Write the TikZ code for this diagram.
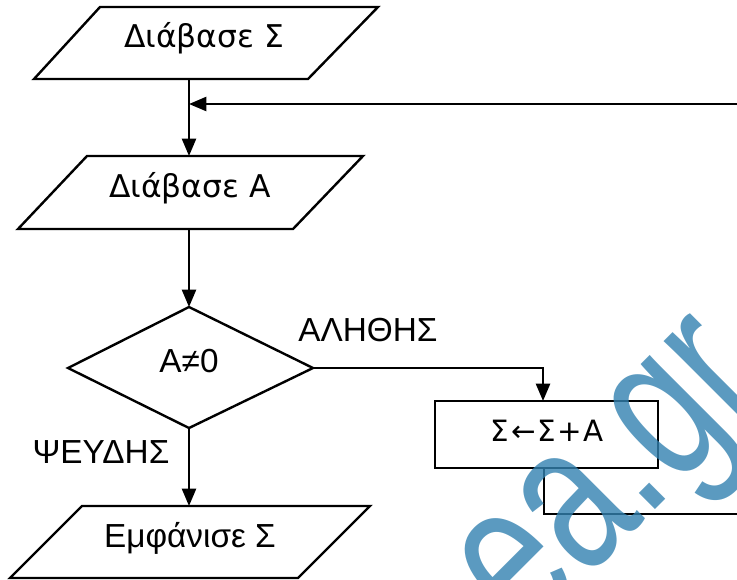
\documentclass[tikz,border=0pt]{standalone}
\usepackage{fontspec}
\usetikzlibrary{arrows.meta}
\newfontfamily\dvs{DejaVu Sans}
\newfontfamily\lib{Liberation Sans}
\newfontfamily\wmfont[FakeStretch=0.72]{Liberation Sans}
\definecolor{wm}{RGB}{50,129,176}
\tikzset{
  shp/.style={draw=black, line width=1.8pt, line join=miter},
  con/.style={draw=black, line width=1.8pt},
  arr/.style={con, -{Triangle[length=13pt,width=10.5pt]}},
  tdv/.style={font=\dvs\fontsize{23.5}{28}\selectfont, inner sep=0pt, anchor=base},
  tlb/.style={font=\lib\fontsize{25}{30}\selectfont, inner sep=0pt, anchor=base},
  tbx/.style={font=\dvs\fontsize{22}{26}\selectfont, inner sep=0pt, anchor=base},
}
\begin{document}
\begin{tikzpicture}[x=0.75pt,y=-0.75pt]
\useasboundingbox (0,0) rectangle (737,579);
% shapes
\draw[shp] (100,7) -- (378,7) -- (308,79) -- (34,79) -- cycle;
\node[tdv] (t1) at (204,47) {Διάβασε Σ};
\draw[shp] (87,156) -- (363,156) -- (293,229) -- (18,229) -- cycle;
\node[tdv] (t2) at (190,197) {Διάβασε Α};
\draw[shp] (189,307) -- (313,368) -- (189,428) -- (68,368) -- cycle;
\node[tlb] (t3) at (189,372) {Α≠0};
\draw[shp] (435,401) rectangle (658,468);
\node[tbx] (t4) at (547,441) {Σ\kern1.5pt←\kern1.5ptΣ\kern1pt+\kern1ptΑ};
\draw[shp] (82,506) -- (370,506) -- (298,578) -- (10,578) -- cycle;
\node[tlb] (t5) at (190,547) {Εμφάνισε Σ};
\node[tlb] (yes) at (368,341) {ΑΛΗΘΗΣ};
\node[tlb] (no) at (101,463) {ΨΕΥΔΗΣ};
% coordinates
\coordinate (p1b) at (189,79);
\coordinate (p2t) at (189,156);
\coordinate (p2b) at (189,229);
\coordinate (dt) at (189,307);
\coordinate (dr) at (313,368);
\coordinate (db) at (189,428);
\coordinate (rt) at (543,401);
\coordinate (rb) at (544,468);
\coordinate (p3t) at (189,506);
\coordinate (loopin) at (737,104);
\coordinate (joinpt) at (189,104);
\coordinate (loopout) at (737,514);
% connectors
\draw[arr] (p1b) -- (p2t);
\draw[arr] (loopin) -- (joinpt);
\draw[arr] (p2b) -- (dt);
\draw[arr] (dr) -| (rt);
\draw[arr] (db) -- (p3t);
\draw[con] (rb) |- (loopout);
% watermark
\begin{scope}
\clip (0,0) rectangle (737,579);
\node[font=\wmfont\fontsize{160}{190}\selectfont, text=wm, text opacity=0.8, inner sep=0pt, anchor=base west, rotate=45] (wmk) at (525,640) {ea.gr};
\end{scope}
\end{tikzpicture}
\end{document}
